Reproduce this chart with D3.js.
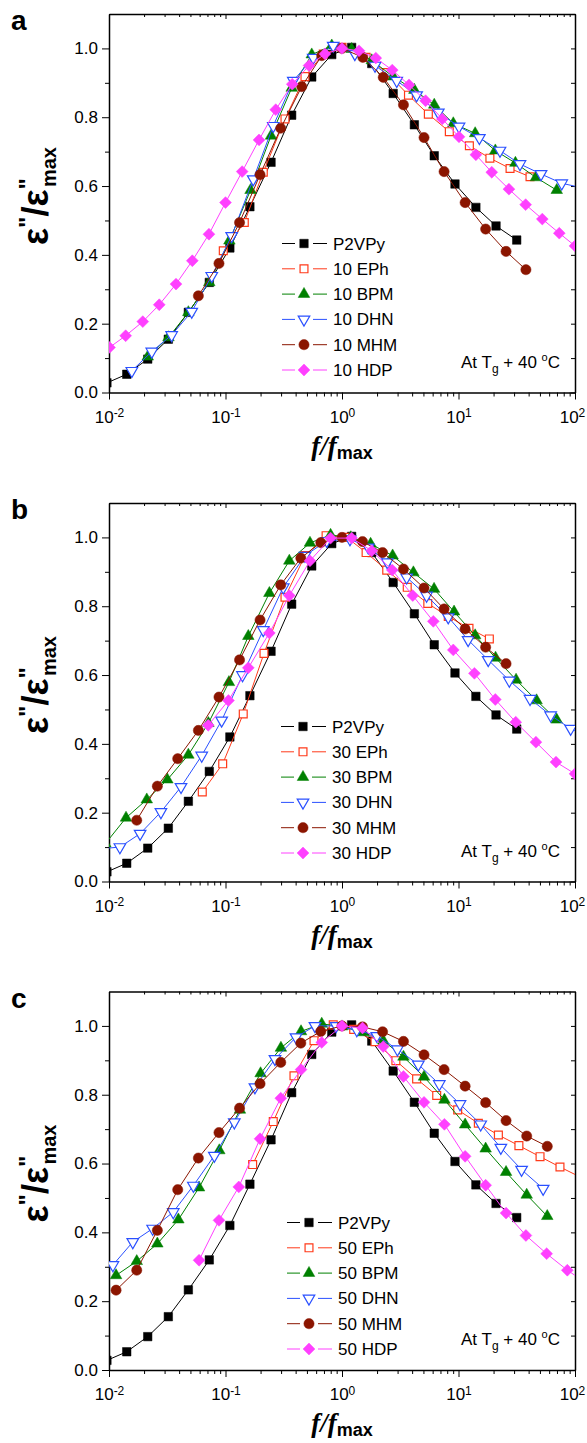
<!DOCTYPE html>
<meta charset="utf-8">
<style>
body { margin: 0; background: #fff; }
svg { font-family: "Liberation Sans", Arial, sans-serif; }
.axis path, .axis line { stroke: #000; }
.axis text { font-size: 17px; fill: #000; font-family: "Liberation Sans", Arial, sans-serif; }
</style>
<svg width="587" height="1443"></svg>
<script src="https://d3js.org/d3.v7.min.js"></script>
<script>
// reference curve, same in every panel
var p2vpy = [[0.0096,0.028],[0.0142,0.053],[0.0215,0.097],[0.0323,0.155],[0.048,0.233],[0.0726,0.32],[0.109,0.42],[0.162,0.54],[0.246,0.669],[0.37,0.806],[0.55,0.917],[0.817,0.982],[1.21,1.003],[1.80,0.956],[2.75,0.869],[4.18,0.778],[6.19,0.688],[9.33,0.606],[14.1,0.538],[21.0,0.484],[31.6,0.443]];

// panel a : 10 wt%
var eph10 = [[0.0957,0.412],[0.145,0.494],[0.211,0.64],[0.324,0.795],[0.481,0.918],[0.69,0.984],[1.0,1.003],[1.61,0.974],[2.42,0.93],[3.72,0.864],[5.51,0.809],[8.34,0.758],[12.4,0.717],[18.6,0.681],[27.7,0.651],[41.1,0.627]];
var bpm10 = [[0.0215,0.104],[0.0324,0.16],[0.048,0.233],[0.0726,0.32],[0.108,0.441],[0.164,0.588],[0.246,0.746],[0.37,0.885],[0.55,0.982],[0.817,1.008],[1.21,0.998],[1.80,0.965],[2.75,0.918],[4.18,0.879],[6.19,0.836],[9.02,0.782],[13.9,0.753],[20.7,0.703],[30.8,0.667],[46.2,0.625],[69.7,0.588]];
var dhn10 = [[0.0157,0.063],[0.0233,0.119],[0.0345,0.167],[0.0513,0.235],[0.0762,0.339],[0.113,0.455],[0.173,0.62],[0.257,0.775],[0.382,0.906],[0.566,0.973],[0.841,1.008],[1.29,0.984],[1.92,0.95],[2.95,0.906],[4.37,0.864],[6.71,0.814],[10.1,0.773],[15.1,0.74],[22.7,0.703],[33.7,0.664],[51.1,0.635],[76.9,0.608],[115,0.595]];
var mhm10 = [[0.0585,0.281],[0.0879,0.375],[0.132,0.494],[0.198,0.633],[0.298,0.768],[0.451,0.889],[0.67,0.979],[1.0,1.0],[1.51,0.974],[2.26,0.916],[3.37,0.836],[5.06,0.741],[7.52,0.642],[11.4,0.552],[17.1,0.475],[25.6,0.41],[37.9,0.357]];
var hdp10 = [[0.0101,0.131],[0.0139,0.165],[0.0195,0.206],[0.027,0.255],[0.0376,0.315],[0.0519,0.383],[0.0721,0.46],[0.1,0.552],[0.139,0.642],[0.194,0.734],[0.27,0.822],[0.374,0.896],[0.521,0.95],[0.714,0.984],[1.0,1.0],[1.4,0.993],[1.95,0.972],[2.7,0.937],[3.76,0.894],[5.22,0.848],[7.26,0.795],[10.1,0.743],[14.1,0.691],[19.3,0.64],[27.1,0.591],[37.7,0.546],[52.4,0.504],[73.3,0.463],[100,0.426]];

// panel b : 30 wt%
var eph30 = [[0.0632,0.26],[0.0946,0.342],[0.142,0.487],[0.214,0.663],[0.324,0.826],[0.481,0.947],[0.73,1.005],[1.1,1.0],[1.61,0.956],[2.42,0.905],[3.63,0.855],[5.45,0.808],[8.17,0.77],[12.3,0.736],[18.4,0.705]];
var bpm30 = [[0.0093,0.11],[0.014,0.185],[0.0211,0.238],[0.0317,0.296],[0.048,0.368],[0.0713,0.46],[0.107,0.579],[0.157,0.713],[0.238,0.838],[0.353,0.932],[0.531,0.984],[0.798,1.007],[1.19,1.0],[1.76,0.981],[2.72,0.947],[4.1,0.898],[6.17,0.85],[9.16,0.784],[13.9,0.715],[20.8,0.65],[31.2,0.586],[46.8,0.526],[69.7,0.47]];
var dhn30 = [[0.0083,0.095],[0.0124,0.1],[0.0185,0.139],[0.0279,0.202],[0.0415,0.275],[0.0625,0.366],[0.0927,0.468],[0.14,0.6],[0.211,0.731],[0.313,0.855],[0.481,0.947],[0.74,0.99],[1.17,0.995],[1.68,0.971],[2.45,0.928],[3.59,0.884],[5.32,0.831],[8.17,0.768],[12.1,0.702],[18.0,0.644],[27.3,0.584],[41.1,0.531],[61.8,0.483],[91.8,0.444],[135,0.42]];
var mhm30 = [[0.0173,0.178],[0.026,0.277],[0.0389,0.357],[0.0585,0.439],[0.0879,0.536],[0.132,0.644],[0.198,0.76],[0.298,0.862],[0.443,0.94],[0.658,0.985],[1.0,1.0],[1.5,0.988],[2.23,0.956],[3.37,0.908],[5.06,0.853],[7.52,0.792],[11.4,0.734],[17.1,0.681],[25.6,0.633]];
var hdp30 = [[0.0711,0.454],[0.106,0.526],[0.157,0.621],[0.238,0.722],[0.353,0.831],[0.531,0.932],[0.798,0.998],[1.21,0.998],[1.8,0.961],[2.7,0.905],[4.05,0.831],[6.08,0.756],[9.02,0.673],[13.7,0.605],[20.7,0.529],[31.0,0.463],[46.2,0.405],[68.7,0.347],[100,0.313]];

// panel c : 50 wt%
var eph50 = [[0.171,0.597],[0.257,0.722],[0.387,0.855],[0.575,0.957],[0.841,1.003],[1.26,0.99],[1.92,0.954],[2.9,0.899],[4.37,0.846],[6.5,0.798],[9.84,0.756],[14.8,0.717],[22.0,0.683],[33.0,0.652],[50.1,0.62],[74.3,0.59],[112,0.56]];
var bpm50 = [[0.0115,0.275],[0.0173,0.316],[0.026,0.367],[0.0394,0.437],[0.0593,0.53],[0.0885,0.638],[0.133,0.756],[0.2,0.862],[0.299,0.936],[0.445,0.984],[0.67,1.006],[1.0,0.998],[1.53,0.981],[2.26,0.957],[3.37,0.91],[5.06,0.852],[7.57,0.785],[11.4,0.713],[17.1,0.643],[25.6,0.575],[38.5,0.509],[57.8,0.447]];
var dhn50 = [[0.0108,0.305],[0.016,0.372],[0.0237,0.411],[0.0356,0.459],[0.053,0.536],[0.0802,0.623],[0.119,0.72],[0.179,0.822],[0.266,0.904],[0.403,0.967],[0.586,1.0],[0.891,1.0],[1.34,0.988],[1.99,0.971],[2.99,0.932],[4.52,0.888],[6.84,0.831],[10.3,0.773],[15.5,0.714],[23.1,0.646],[34.8,0.582],[53.3,0.527]];
var mhm50 = [[0.0115,0.232],[0.0173,0.29],[0.026,0.406],[0.0389,0.524],[0.0585,0.616],[0.0879,0.69],[0.132,0.761],[0.198,0.832],[0.298,0.894],[0.443,0.95],[0.658,0.984],[1.0,1.0],[1.5,0.997],[2.23,0.983],[3.37,0.955],[5.06,0.916],[7.52,0.873],[11.4,0.825],[17.1,0.777],[25.6,0.725],[38.5,0.68],[57.8,0.65]];
var hdp50 = [[0.0593,0.319],[0.0879,0.435],[0.13,0.532],[0.198,0.672],[0.298,0.79],[0.445,0.873],[0.67,0.952],[1.0,1.0],[1.5,0.994],[2.26,0.94],[3.37,0.853],[5.06,0.778],[7.57,0.714],[11.4,0.621],[17.1,0.537],[25.6,0.456],[37.9,0.391],[57.1,0.338],[85.9,0.29],[129,0.25]];

var additives = ["EPh", "BPM", "DHN", "MHM", "HDP"];
var loadings = ["10", "30", "50"];
var letters = ["a", "b", "c"];
var panelData = [
  [p2vpy, eph10, bpm10, dhn10, mhm10, hdp10],
  [p2vpy, eph30, bpm30, dhn30, mhm30, hdp30],
  [p2vpy, eph50, bpm50, dhn50, mhm50, hdp50]
];
var xTicks = [0.01, 0.1, 1, 10, 100];
var yTicks = [0, 0.2, 0.4, 0.6, 0.8, 1.0];

var colors = ["#000000", "#ff3a1a", "#008000", "#2a50ff", "#8b1500", "#ff40ff"];
var shapes = [
  {type: d3.symbolSquare, size: 72, fill: true, rot: 0},
  {type: d3.symbolSquare, size: 62, fill: false, rot: 0},
  {type: d3.symbolTriangle, size: 58, fill: true, rot: 0},
  {type: d3.symbolTriangle, size: 58, fill: false, rot: 180},
  {type: d3.symbolCircle, size: 82, fill: true, rot: 0},
  {type: d3.symbolSquare, size: 70, fill: true, rot: 45}
];

var svg = d3.select("svg");
var left = 109, right = 575, plotH = 378.5;
var tops = [14, 503, 991.5];
var legendX = [304, 303, 309];
var legendLast = [370, 853, 1349];

tops.forEach(function(top, p) {
  var bottom = top + plotH;
  var x = d3.scaleLog().domain([0.01, 100]).range([left, right]);
  var y = d3.scaleLinear().domain([0, 1.1]).range([bottom, top]);

  var minorX = [];
  for (var e = -2; e < 2; e++) for (var m = 2; m < 10; m++) minorX.push(m * Math.pow(10, e));
  var minorY = [0.1, 0.3, 0.5, 0.7, 0.9];

  var g = svg.append("g");

  var clipId = "clip" + p;
  svg.append("clipPath").attr("id", clipId)
    .append("rect").attr("x", left).attr("y", top).attr("width", right - left).attr("height", plotH);

  // minor ticks
  g.append("g").attr("class", "axis").attr("transform", "translate(0," + bottom + ")")
    .call(d3.axisBottom(x).tickValues(minorX).tickSize(4).tickSizeOuter(0).tickFormat(""))
    .select(".domain").remove();
  g.append("g").attr("class", "axis").attr("transform", "translate(0," + top + ")")
    .call(d3.axisTop(x).tickValues(minorX).tickSize(-3).tickSizeOuter(0).tickFormat(""))
    .select(".domain").remove();
  g.append("g").attr("class", "axis").attr("transform", "translate(" + left + ",0)")
    .call(d3.axisLeft(y).tickValues(minorY).tickSize(4).tickSizeOuter(0).tickFormat(""))
    .select(".domain").remove();

  // major axes
  var xb = g.append("g").attr("class", "axis").attr("transform", "translate(0," + bottom + ")")
    .call(d3.axisBottom(x).tickValues(xTicks).tickSize(7).tickSizeOuter(0).tickPadding(11));
  xb.selectAll(".tick text").each(function(d) {
    var t = d3.select(this).text("");
    t.append("tspan").text("10");
    t.append("tspan").attr("dy", "-0.45em").style("font-size", "12px").text(Math.round(Math.log10(d)));
  }).attr("dx", function(d) { return d === 100 ? -3 : 0; });
  g.append("g").attr("class", "axis").attr("transform", "translate(0," + top + ")")
    .call(d3.axisTop(x).tickValues(xTicks).tickSize(-5).tickSizeOuter(0).tickFormat(""));
  g.append("g").attr("class", "axis").attr("transform", "translate(" + left + ",0)")
    .call(d3.axisLeft(y).tickValues(yTicks).tickSize(7).tickSizeOuter(0).tickPadding(4).tickFormat(d3.format(".1f")));
  g.append("g").attr("class", "axis").attr("transform", "translate(" + right + ",0)")
    .call(d3.axisRight(y).tickValues(d3.range(0, 1.05, 0.1)).tickSize(-4).tickSizeOuter(0).tickFormat(""));
  g.selectAll(".domain").attr("stroke-width", 1.5);

  // series
  var plot = g.append("g").attr("clip-path", "url(#" + clipId + ")");
  var line = d3.line().x(function(d) { return x(d[0]); }).y(function(d) { return y(d[1]); });
  panelData[p].forEach(function(data, i) {
    var sh = shapes[i];
    plot.append("path").datum(data).attr("d", line)
      .attr("fill", "none").attr("stroke", colors[i]).attr("stroke-width", 1);
    plot.selectAll(".m" + i).data(data).enter().append("path")
      .attr("d", d3.symbol().type(sh.type).size(sh.size))
      .attr("transform", function(d) { return "translate(" + x(d[0]) + "," + y(d[1]) + ") rotate(" + sh.rot + ")"; })
      .attr("fill", sh.fill ? colors[i] : "#fff")
      .attr("stroke", colors[i]).attr("stroke-width", sh.fill ? 0.5 : 1.2);
  });

  // legend
  var names = ["P2VPy"].concat(additives.map(function(a) { return loadings[p] + " " + a; }));
  var lx = legendX[p];
  names.forEach(function(name, i) {
    var ly = legendLast[p] - (5 - i) * 25.3;
    var sh = shapes[i];
    g.append("line").attr("x1", lx - 22).attr("x2", lx - 9).attr("y1", ly).attr("y2", ly).attr("stroke", colors[i]);
    g.append("line").attr("x1", lx + 9).attr("x2", lx + 23).attr("y1", ly).attr("y2", ly).attr("stroke", colors[i]);
    g.append("path").attr("d", d3.symbol().type(sh.type).size(sh.size))
      .attr("transform", "translate(" + lx + "," + ly + ") rotate(" + sh.rot + ")")
      .attr("fill", sh.fill ? colors[i] : "#fff")
      .attr("stroke", colors[i]).attr("stroke-width", sh.fill ? 0.5 : 1.2);
    g.append("text").attr("x", lx + 29).attr("y", ly + 6).attr("font-size", 17).text(name);
  });

  // annotation
  var at = g.append("text").attr("x", 560).attr("y", bottom - 25).attr("text-anchor", "end").attr("font-size", 17);
  at.append("tspan").text("At T");
  at.append("tspan").attr("dy", 5).attr("font-size", 12).text("g");
  at.append("tspan").attr("dy", -5).text(" + 40 ");
  at.append("tspan").attr("dy", -7).attr("font-size", 11).text("o");
  at.append("tspan").attr("dy", 7).text("C");

  // panel letter
  g.append("text").attr("x", 11).attr("y", top + 16).attr("font-size", 28).attr("font-weight", "bold").text(letters[p]);

  // axis titles
  var xt = g.append("text").attr("x", 342).attr("y", bottom + 62).attr("text-anchor", "middle").attr("font-weight", "bold");
  xt.append("tspan").attr("font-family", "Liberation Serif, Times New Roman, serif").attr("font-style", "italic").attr("font-size", 27).text("f/f");
  xt.append("tspan").attr("font-size", 18).attr("dy", 4).text("max");

  var yt = g.append("text").attr("transform", "translate(48," + (top + 182) + ") rotate(-90)")
    .attr("text-anchor", "middle").attr("font-weight", "bold").attr("font-size", 36);
  yt.append("tspan").text("ε");
  yt.append("tspan").attr("dy", -12).attr("font-size", 24).text("\"");
  yt.append("tspan").attr("dy", 12).text("/ε");
  yt.append("tspan").attr("dy", -12).attr("font-size", 24).text("\"");
  yt.append("tspan").attr("dy", 20).attr("dx", -9).attr("font-size", 20).text("max");
});
</script>
